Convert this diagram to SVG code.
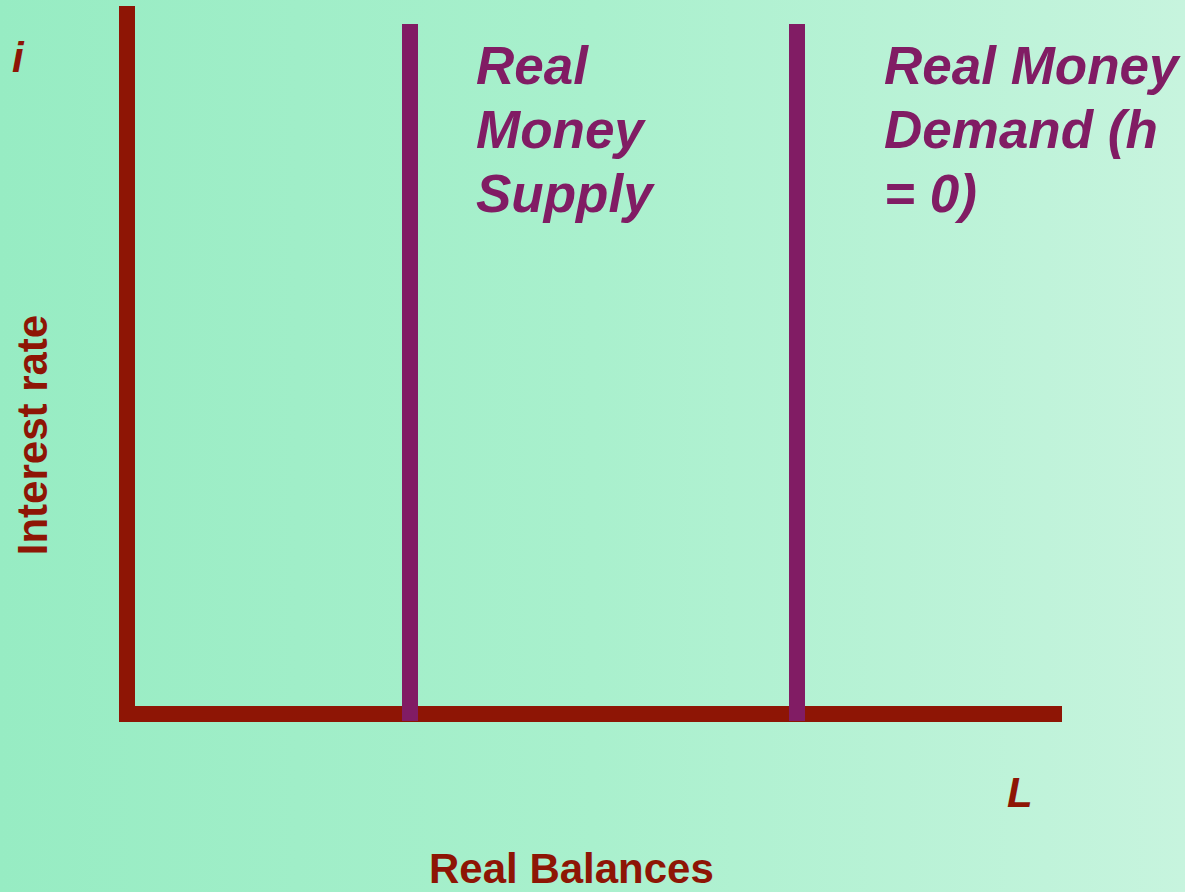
<svg xmlns="http://www.w3.org/2000/svg" width="1185" height="892" viewBox="0 0 1185 892">
<defs>
<linearGradient id="bg" x1="0" y1="0" x2="1" y2="0">
<stop offset="0" stop-color="#97ECC3"/>
<stop offset="0.5" stop-color="#A9F0CD"/>
<stop offset="1" stop-color="#C7F4DE"/>
</linearGradient>
<style>
.axis{fill:#8E1505}
.curve{fill:#811C64}
.lbl{font-family:"Liberation Sans",Arial,sans-serif;font-weight:bold;fill:#8E1505;font-size:42px}
.it{font-style:italic}
.ctxt{font-family:"Liberation Sans",Arial,sans-serif;font-weight:bold;font-style:italic;fill:#811C64;font-size:53px}
</style>
</defs>
<rect x="0" y="0" width="1185" height="892" fill="url(#bg)"/>
<g id="connectors">
<rect class="axis" x="119" y="6" width="16" height="716"/>
<rect class="axis" x="119" y="706" width="943" height="16"/>
<rect class="curve" x="402" y="24" width="16" height="697"/>
<rect class="curve" x="789" y="24" width="16" height="697"/>
</g>
<g id="label-i"><text class="lbl it" x="12" y="72">i</text></g>
<g id="label-interest"><text class="lbl" transform="translate(47,435) rotate(-90)" text-anchor="middle">Interest rate</text></g>
<g id="label-L"><text class="lbl it" x="1007" y="807">L</text></g>
<g id="label-balances"><text class="lbl" x="429" y="883">Real Balances</text></g>
<g id="supply"><text class="ctxt" x="476"><tspan x="476" y="84">Real</tspan><tspan x="476" y="148">Money</tspan><tspan x="476" y="212">Supply</tspan></text></g>
<g id="demand"><text class="ctxt" x="884"><tspan x="884" y="84">Real Money</tspan><tspan x="884" y="148">Demand (h</tspan><tspan x="884" y="212">= 0)</tspan></text></g>
</svg>
